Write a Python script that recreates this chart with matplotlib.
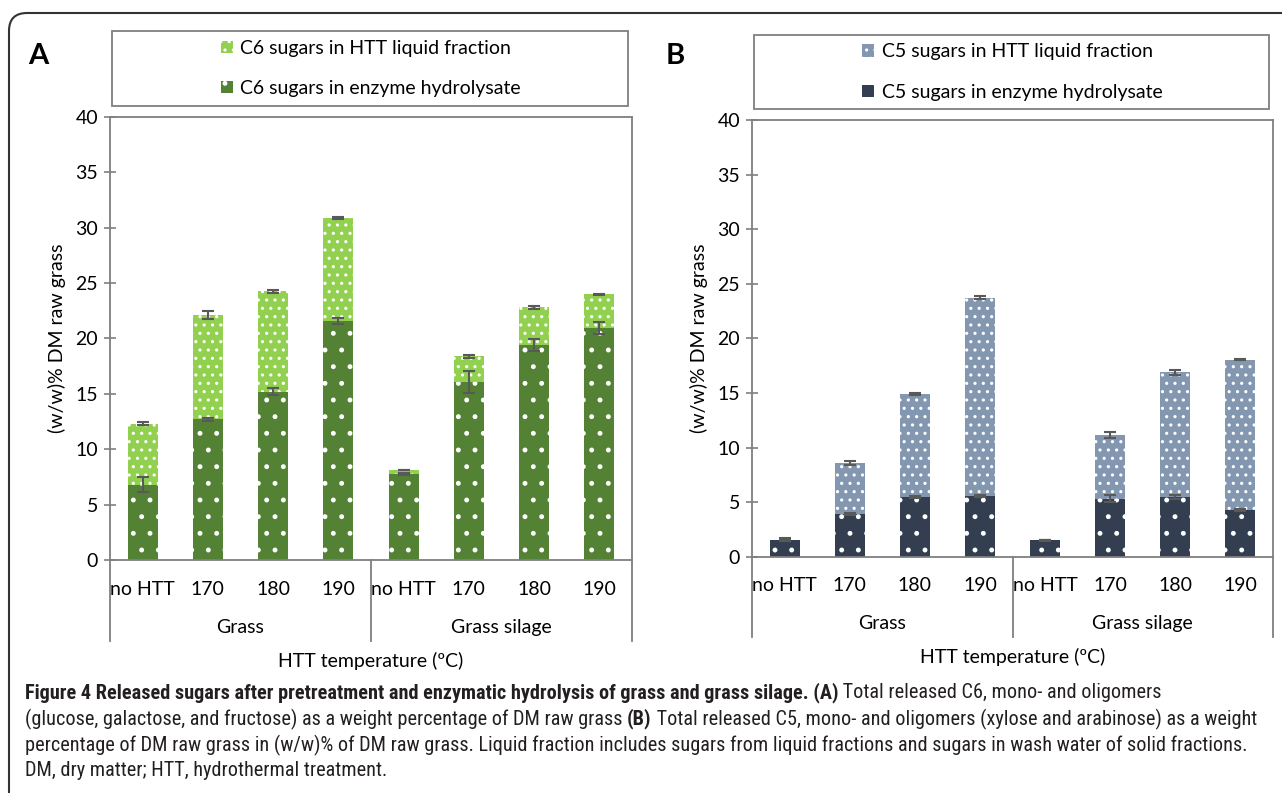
import matplotlib
matplotlib.use("Agg")
import matplotlib.pyplot as plt
from matplotlib.patches import Rectangle, FancyBboxPatch
import matplotlib.transforms as mtransforms
import numpy as np

plt.rcParams['font.family'] = ['Lato', 'DejaVu Sans']
plt.rcParams['hatch.linewidth'] = 1.1

categories = ["no HTT", "170", "180", "190", "no HTT", "170", "180", "190"]
groups = ["Grass", "Grass silage"]

# panel A: C6 sugars
c6_enzyme = [6.8, 12.7, 15.2, 21.6, 7.75, 16.05, 19.4, 20.95]
c6_enzyme_err = [0.7, 0.15, 0.3, 0.25, 0.1, 1.0, 0.55, 0.5]
c6_liquid = [5.5, 9.4, 9.05, 9.3, 0.35, 2.35, 3.4, 3.05]
c6_total_err = [0.12, 0.35, 0.1, 0.1, 0.0, 0.12, 0.1, 0.05]

# panel B: C5 sugars
c5_enzyme = [1.6, 3.95, 5.5, 5.55, 1.55, 5.35, 5.5, 4.3]
c5_enzyme_err = [0.1, 0.1, 0.1, 0.1, 0.05, 0.3, 0.15, 0.1]
c5_liquid = [0.0, 4.65, 9.45, 18.2, 0.0, 5.8, 11.4, 13.75]
c5_total_err = [0.0, 0.2, 0.1, 0.15, 0.0, 0.25, 0.2, 0.05]

legend_A = ["C6 sugars in HTT liquid fraction", "C6 sugars in enzyme hydrolysate"]
legend_B = ["C5 sugars in HTT liquid fraction", "C5 sugars in enzyme hydrolysate"]

GRAY = "#7f7f7f"
ERR = "#595959"

fig = plt.figure(figsize=(12.82, 7.93), dpi=100)
axA = fig.add_axes([0.0858, 0.2938, 0.4072, 0.5587])
axB = fig.add_axes([0.5866, 0.2976, 0.4064, 0.5511])


def panel(ax, enzyme, enzyme_err, liquid, total_err, c_dark, c_light, labels, letter, letter_x):
    x = np.arange(len(categories))
    enzyme = np.array(enzyme)
    liquid = np.array(liquid)
    w = 0.46
    b1 = ax.bar(x, enzyme, w, color=c_dark, edgecolor="white", linewidth=0,
                hatch=".", zorder=2)
    b2 = ax.bar(x, liquid, w, bottom=enzyme, color=c_light, edgecolor="white",
                linewidth=0, hatch="..", zorder=2)
    ax.errorbar(x, enzyme, yerr=enzyme_err, fmt="none", ecolor=ERR,
                elinewidth=1.5, capsize=4, capthick=1.5, zorder=3)
    ax.errorbar(x, enzyme + liquid, yerr=total_err, fmt="none", ecolor=ERR,
                elinewidth=1.5, capsize=4, capthick=1.5, zorder=3)

    ax.set_xlim(-0.5, 7.5)
    ax.set_ylim(0, 40)
    ax.set_yticks(range(0, 41, 5))
    ax.tick_params(axis="y", direction="inout", length=9, width=1.2,
                   color=GRAY, labelsize=14, pad=4)
    ax.set_xticks([])
    for s in ax.spines.values():
        s.set_color(GRAY)
        s.set_linewidth(1.3)
    ax.set_ylabel("(w/w)% DM raw grass", fontsize=14, labelpad=7)

    # category axis below the plot
    trans = mtransforms.blended_transform_factory(ax.transData, ax.transAxes)
    for i, lab in enumerate(categories):
        ax.text(x[i], -0.066, lab, transform=trans, ha="center", va="center",
                fontsize=14)
    for sep in [-0.5, 3.5, 7.5]:
        ax.plot([sep, sep], [0, -0.182], transform=trans, color=GRAY,
                lw=1.3, clip_on=False)
    ax.text(1.5, -0.153, groups[0], transform=trans, ha="center", va="center",
            fontsize=14)
    ax.text(5.5, -0.153, groups[1], transform=trans, ha="center", va="center",
            fontsize=14)
    ax.text(0.5, -0.228, "HTT temperature (ºC)", transform=ax.transAxes,
            ha="center", va="center", fontsize=14)

    # legend box above the plot
    ax.add_patch(Rectangle((0.003, 1.025), 0.99, 0.17, transform=ax.transAxes,
                           fill=False, edgecolor=GRAY, lw=1.3, clip_on=False))
    ax.legend([b2, b1], labels, loc="center", bbox_to_anchor=(0.5, 1.11),
              frameon=False, fontsize=14, handlelength=0.6, handleheight=0.6,
              handletextpad=0.4, labelspacing=1.2)

    fig.text(letter_x, 0.93, letter, fontsize=21, fontweight="bold",
             ha="left", va="center")


panel(axA, c6_enzyme, c6_enzyme_err, c6_liquid, c6_total_err,
      "#548235", "#92d050", legend_A, "A", 0.022)
panel(axB, c5_enzyme, c5_enzyme_err, c5_liquid, c5_total_err,
      "#333f50", "#8497b0", legend_B, "B", 0.519)

# rounded frame round the figure
fig.add_artist(FancyBboxPatch((9, -60), 1340, 840, transform=None,
                              boxstyle="round,pad=0,rounding_size=18",
                              fill=False, edgecolor="#333333", lw=1.5))

# caption with mixed bold / regular runs
cap_font = ['Roboto Condensed', 'Roboto', 'DejaVu Sans']
caption = [
    [("Figure 4 Released sugars after pretreatment and enzymatic hydrolysis of grass and grass silage. (A)", True),
     (" Total released C6, mono- and oligomers", False)],
    [("(glucose, galactose, and fructose) as a weight percentage of DM raw grass ", False),
     ("(B)", True),
     (" Total released C5, mono- and oligomers (xylose and arabinose) as a weight", False)],
    [("percentage of DM raw grass in (w/w)% of DM raw grass. Liquid fraction includes sugars from liquid fractions and sugars in wash water of solid fractions.", False)],
    [("DM, dry matter; HTT, hydrothermal treatment.", False)],
]
renderer = fig.canvas.get_renderer()


def run_width(runs, size):
    total = 0
    for txt, bold in runs:
        t = fig.text(0, 0, txt, family=cap_font, fontsize=size,
                     fontweight="bold" if bold else "normal")
        total += t.get_window_extent(renderer).width
        t.remove()
    return total


base = 13
widest = max(run_width(r, base) for r in caption)
cap_size = base * 1228 / widest

line_y = [693, 719, 745, 771]
for runs, yp in zip(caption, line_y):
    xp = 25
    for txt, bold in runs:
        t = fig.text(xp / 1282, 1 - yp / 793, txt, family=cap_font, fontsize=cap_size,
                     fontweight="bold" if bold else "normal", va="center", ha="left",
                     color="#231f20")
        xp += t.get_window_extent(renderer).width

fig.savefig("out.png", dpi=100)
